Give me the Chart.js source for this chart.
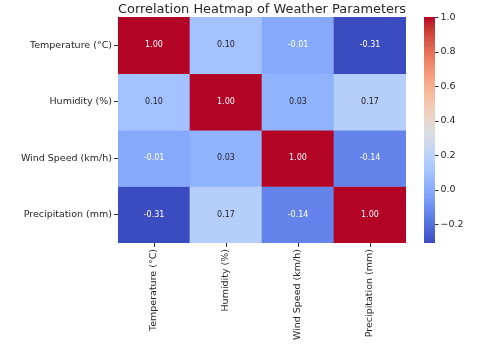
<!DOCTYPE html>
<html>
<head>
<meta charset="utf-8">
<script src="https://cdn.jsdelivr.net/npm/chart.js@4/dist/chart.umd.min.js"></script>
<style>
  html, body { margin: 0; padding: 0; background: #fff; }
  canvas { display: block; }
</style>
</head>
<body>
<canvas id="heat" width="479" height="348"></canvas>
<script>
// Variables of the correlation matrix (rows and columns share the same order)
const variables = ['Temperature (°C)', 'Humidity (%)', 'Wind Speed (km/h)', 'Precipitation (mm)'];

// One row of the correlation matrix per variable
const corrTemperature   = [1.00, 0.10, -0.01, -0.31];
const corrHumidity      = [0.10, 1.00, 0.03, 0.17];
const corrWindSpeed     = [-0.01, 0.03, 1.00, -0.14];
const corrPrecipitation = [-0.31, 0.17, -0.14, 1.00];
const matrixRows = [corrTemperature, corrHumidity, corrWindSpeed, corrPrecipitation];

// Colour bar range and tick values
const colorMin = -0.31;
const colorMax = 1.00;
const colorbarTicks = [-0.2, 0.0, 0.2, 0.4, 0.6, 0.8, 1.0];

// coolwarm diverging colormap, sampled at 33 evenly spaced stops
const coolwarm = [
  [59,76,192],[68,90,204],[77,104,215],[87,117,225],[98,130,234],[108,142,241],
  [119,154,247],[130,165,251],[141,176,254],[152,185,255],[163,194,255],[174,201,253],
  [184,208,249],[194,213,244],[204,217,238],[213,219,230],[221,221,221],[229,216,209],
  [236,211,197],[241,204,184],[245,196,172],[247,187,160],[247,177,148],[247,166,135],
  [244,154,123],[241,141,111],[236,127,99],[229,112,89],[222,96,77],[213,80,66],
  [203,62,56],[192,40,47],[180,4,38]
];

function cmapRGB(v) {
  let t = (v - colorMin) / (colorMax - colorMin);
  t = Math.max(0, Math.min(1, t));
  const pos = t * (coolwarm.length - 1);
  const i = Math.min(Math.floor(pos), coolwarm.length - 2);
  const f = pos - i;
  const a = coolwarm[i], b = coolwarm[i + 1];
  return [0, 1, 2].map(k => Math.round(a[k] + (b[k] - a[k]) * f));
}
function cmap(v) {
  const c = cmapRGB(v);
  return `rgb(${c[0]},${c[1]},${c[2]})`;
}
// Light cells get dark text, dark cells get white text
function textColorFor(v) {
  const lin = cmapRGB(v).map(c => {
    c /= 255;
    return c <= 0.03928 ? c / 12.92 : Math.pow((c + 0.055) / 1.055, 2.4);
  });
  const lum = 0.2126 * lin[0] + 0.7152 * lin[1] + 0.0722 * lin[2];
  return lum > 0.408 ? '#222' : '#fff';
}

const FONT = 'DejaVu Sans';
const TEXT = '#262626';

// Each matrix row is one dataset of floating bars spanning [row, row + 1]
const datasets = matrixRows.map((vals, r) => ({
  label: variables[r],
  data: vals.map(() => [r, r + 1]),
  values: vals,
  backgroundColor: vals.map(cmap),
  borderWidth: 0,
  barPercentage: 1,
  categoryPercentage: 1,
  grouped: false,
  yAxisID: 'y'
}));

// Writes each coefficient in the middle of its cell
const cellLabels = {
  id: 'cellLabels',
  afterDatasetsDraw(chart) {
    const ctx = chart.ctx;
    ctx.save();
    ctx.font = `8px "${FONT}"`;
    ctx.textAlign = 'center';
    ctx.textBaseline = 'middle';
    chart.data.datasets.forEach((ds, di) => {
      chart.getDatasetMeta(di).data.forEach((el, i) => {
        const v = ds.values[i];
        ctx.fillStyle = textColorFor(v);
        ctx.fillText(v.toFixed(2), el.x, (el.y + el.base) / 2);
      });
    });
    ctx.restore();
  }
};

// Paints the colour bar inside the right-hand scale box
const colorBar = {
  id: 'colorBar',
  afterDraw(chart) {
    const s = chart.scales.cb;
    const ctx = chart.ctx;
    const x0 = s.left + 18, w = 11;
    ctx.save();
    for (let y = Math.floor(s.top); y < Math.ceil(s.bottom); y++) {
      ctx.fillStyle = cmap(s.getValueForPixel(y + 0.5));
      ctx.fillRect(x0, y, w, 1);
    }
    ctx.strokeStyle = '#333';
    ctx.lineWidth = 1;
    colorbarTicks.forEach(t => {
      const y = Math.round(s.getPixelForValue(t)) + 0.5;
      ctx.beginPath();
      ctx.moveTo(x0 + w, y);
      ctx.lineTo(x0 + w + 3.5, y);
      ctx.stroke();
    });
    ctx.restore();
  }
};

new Chart(document.getElementById('heat'), {
  type: 'bar',
  data: { labels: variables, datasets },
  plugins: [cellLabels, colorBar],
  options: {
    responsive: false,
    devicePixelRatio: 1,
    animation: false,
    layout: { padding: 0 },
    plugins: {
      legend: { display: false },
      tooltip: { enabled: false },
      title: {
        display: true,
        fullSize: false,
        text: 'Correlation Heatmap of Weather Parameters',
        color: TEXT,
        font: { family: FONT, size: 13, weight: 'normal', lineHeight: 1.2 },
        padding: { top: 1.5, bottom: 0 }
      }
    },
    scales: {
      x: {
        type: 'category',
        offset: true,
        grid: { display: true, offset: false, drawOnChartArea: false, drawTicks: true,
                tickLength: 4, tickColor: '#333', color: '#333' },
        border: { display: false },
        ticks: { color: TEXT, font: { family: FONT, size: 9.5 }, maxRotation: 90, minRotation: 90, padding: 2 },
        afterFit(scale) { scale.height = 105; }
      },
      y: {
        type: 'linear',
        reverse: true,
        min: 0,
        max: variables.length,
        grid: { display: true, drawOnChartArea: false, drawTicks: true,
                tickLength: 4, tickColor: '#333', color: '#333' },
        border: { display: false },
        afterBuildTicks(scale) {
          scale.ticks = variables.map((_, i) => ({ value: i + 0.5 }));
        },
        ticks: {
          color: TEXT,
          font: { family: FONT, size: 9.5 },
          padding: 2,
          callback: (v) => variables[Math.floor(v)]
        },
        afterFit(scale) { scale.width = 118; }
      },
      cb: {
        type: 'linear',
        position: 'right',
        display: true,
        min: colorMin,
        max: colorMax,
        // invisible tick marks leave room for the colour bar left of the labels
        grid: { display: true, drawOnChartArea: false, drawTicks: true,
                tickLength: 32.5, tickColor: 'rgba(0,0,0,0)', color: 'rgba(0,0,0,0)' },
        border: { display: false },
        afterBuildTicks(scale) {
          scale.ticks = colorbarTicks.map(v => ({ value: v }));
        },
        ticks: {
          color: TEXT,
          font: { family: FONT, size: 9.5 },
          padding: 2,
          callback: (v) => (v < 0 ? '\u2212' : '') + Math.abs(v).toFixed(1)
        },
        afterFit(scale) { scale.width = 73; }
      }
    }
  }
});
</script>
</body>
</html>
